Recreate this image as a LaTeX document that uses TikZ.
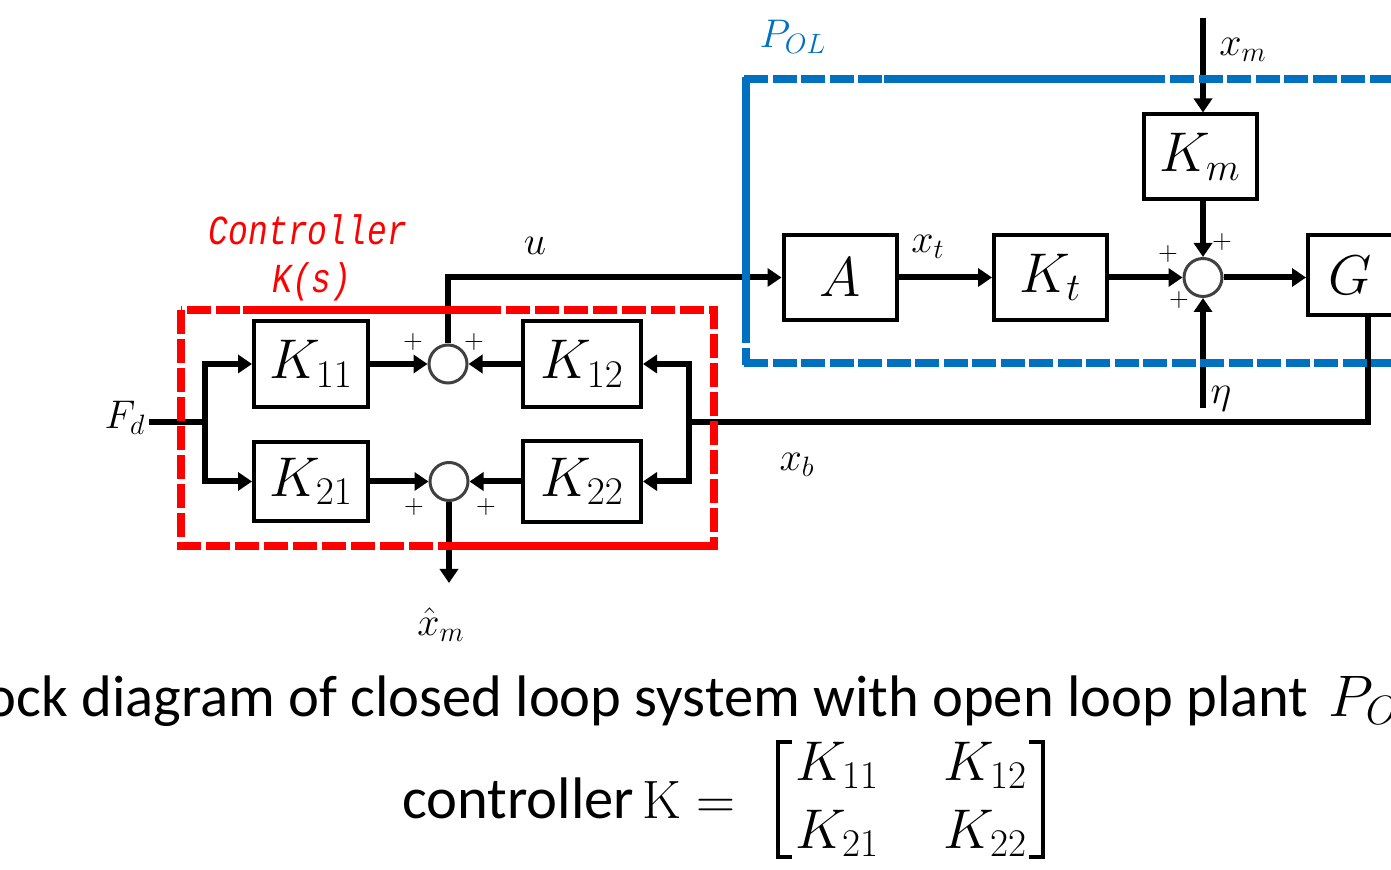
\RequirePackage{fix-cm}
\documentclass[tikz,border=0pt]{standalone}
\usepackage{amsmath}
\usepackage{graphicx}
\usepackage{fontspec}
\usetikzlibrary{arrows.meta}
\newfontfamily\capfont{Carlito}
\newfontfamily\ctrlfont{Liberation Mono}
\definecolor{polblue}{HTML}{0070C0}
\definecolor{ctrlred}{HTML}{FF0000}
\begin{document}
\begin{tikzpicture}[x=0.5pt,y=-0.5pt,
  blk/.style={draw, line width=2pt, inner sep=0pt, font=\fontsize{28}{34}\selectfont},
  lbl/.style={inner sep=0pt, font=\fontsize{20}{24}\selectfont},
  pl/.style={inner sep=0pt, font=\fontsize{13}{15}\selectfont},
  sumc/.style={circle, draw=black!75, line width=1.5pt, minimum size=19pt, inner sep=0pt},
  wire/.style={line width=3pt, line cap=rect},
  sig/.style={line width=3pt, -{Triangle[length=7pt,width=9pt]}},
  reddash/.style={draw=ctrlred, line width=4pt, dash pattern=on 12pt off 2.5pt},
  redsolid/.style={draw=ctrlred, line width=4pt},
  bluedash/.style={draw=polblue, line width=3.75pt, dash pattern=on 12pt off 2.25pt},
  bluesolid/.style={draw=polblue, line width=3.75pt},
  ctltext/.style={inner sep=0pt, text=ctrlred, font=\ctrlfont\itshape\fontsize{16.5}{20}\selectfont},
  captext/.style={anchor=base west, inner sep=0pt, font=\capfont\fontsize{29.3}{35}\selectfont},
  mtx/.style={anchor=base west, inner sep=0pt, font=\fontsize{28}{34}\selectfont},
  brk/.style={line width=2pt, line join=miter}
]
\useasboundingbox (0,0) rectangle (1391,870);
\clip (0,0) rectangle (1391,870);

% blocks
\node[blk, minimum width=57pt, minimum height=43pt] (K11) at (311,364) {$K_{11}$};
\node[blk, minimum width=57pt, minimum height=39.5pt] (K21) at (311,481.5) {$K_{21}$};
\node[blk, minimum width=59pt, minimum height=43pt] (K12) at (582,364) {$K_{12}$};
\node[blk, minimum width=59pt, minimum height=40.5pt] (K22) at (582,481.5) {$K_{22}$};
\node[blk, minimum width=56.5pt, minimum height=42.5pt] (A) at (840,277.5) {$A$};
\node[blk, minimum width=56.5pt, minimum height=42.5pt] (Kt) at (1050.5,277.5) {$K_t$};
\node[blk, minimum width=56.5pt, minimum height=42.5pt] (Km) at (1200,157) {$K_m$};
\node[blk, minimum width=60pt, minimum height=40pt, text width=40pt] (G) at (1368,275) {$G$};

% summing junctions
\node[sumc] (s1) at (448,364) {};
\node[sumc] (s2) at (449,481.5) {};
\node[sumc] (s3) at (1203,277.5) {};

% free ends
\coordinate (fd) at (152,422);
\coordinate (bl) at (205,422);
\coordinate (br) at (689,422);
\coordinate (xmin) at (1203,18);
\coordinate (etain) at (1203,408);
\coordinate (xhatout) at (449,583);

% connectors
\draw[wire] (fd) -- (bl);
\draw[sig] (bl) |- (K11.west);
\draw[sig] (bl) |- (K21.west);
\draw[sig] (K11.east) -- (s1.west);
\draw[sig] (K12.west) -- (s1.east);
\draw[sig] (K21.east) -- (s2.west);
\draw[sig] (K22.west) -- (s2.east);
\draw[sig] (s1.north) |- (A.west);
\draw[sig] (s2.south) -- (xhatout);
\draw[wire] (G.south) |- (br);
\draw[sig] (br) |- (K12.east);
\draw[sig] (br) |- (K22.east);
\draw[sig] (A.east) -- (Kt.west);
\draw[sig] (Kt.east) -- (s3.west);
\draw[sig] (s3.east) -- (s3.east -| G.west);
\draw[sig] (xmin) -- (xmin |- Km.north);
\draw[sig] (s3.north |- Km.south) -- (s3.north);
\draw[sig] (etain) -- (s3.south);

% plus signs
\node[pl] (p1) at (413,342) {$+$};
\node[pl] (p2) at (474,342) {$+$};
\node[pl] (p3) at (414,507) {$+$};
\node[pl] (p4) at (486,507) {$+$};
\node[pl] (p5) at (1168,254) {$+$};
\node[pl] (p6) at (1222,242) {$+$};
\node[pl] (p7) at (1179,300) {$+$};

% signal labels
\node[lbl] (Fdl) at (125,418) {$F_d$};
\node[lbl] (ul) at (535,246) {$u$};
\node[lbl] (xtl) at (928,247) {$x_t$};
\node[lbl] (xbl) at (797,465) {$x_b$};
\node[lbl] (xml) at (1243,50) {$x_m$};
\node[lbl] (etal) at (1221,399) {$\eta$};
\node[lbl] (xhl) at (441,625) {$\hat{x}_m$};
\node[lbl, text=polblue] (poll) at (793,37) {$P_{OL}$};

% controller label
\node[ctltext] (ctl) at (308,230) {\scalebox{1}[1.25]{Controller}};
\node[ctltext] (ksl) at (312,282) {\scalebox{1}[1.25]{K(s)}};

% controller frame (red)
\draw[reddash] (181,310) rectangle (714,546);
\draw[redsolid] (243,310) -- (495,310);
\draw[redsolid] (441,546) -- (714,546);

% open-loop plant frame (blue)
\draw[bluesolid] (746,343) -- (746,77.1);
\draw[bluesolid] (746,348) -- (746,364.9);
\draw[bluedash] (744.1,79) -- (884,79);
\draw[bluesolid] (884,79) -- (1165,79);
\draw[bluedash] (1170,79) -- (1420,79);
\draw[bluedash] (744.1,363) -- (1420,363);

% caption
\node[captext] (cap1) at (-60,716) {Block diagram of closed loop system with open loop plant\hspace{10pt}$P_{OL}$};
\node[captext] (cap2) at (402,818) {controller\hspace{4pt}{\fontsize{27}{32}\selectfont$\mathrm{K}=$}};
\node[mtx] (m11) at (795,780) {$K_{11}$};
\node[mtx] (m12) at (943,780) {$K_{12}$};
\node[mtx] (m21) at (795,848) {$K_{21}$};
\node[mtx] (m22) at (943,848) {$K_{22}$};
\draw[brk] (792,742) -- (778,742) -- (778,857) -- (792,857);
\draw[brk] (1029,742) -- (1043,742) -- (1043,857) -- (1029,857);
\end{tikzpicture}
\end{document}
